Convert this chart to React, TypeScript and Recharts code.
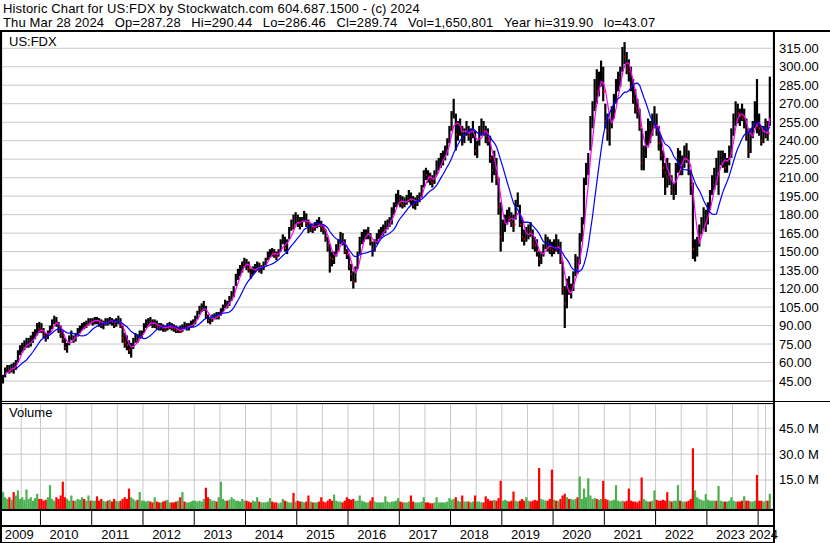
import React from "react";
import { ComposedChart, Bar, Line, XAxis, YAxis, CartesianGrid } from "recharts";

// ─── Data: half-month bars, starting with the first half of April 2009 ───────

const FIRST_YEAR = 2009;
const FIRST_HALF = 6; // 0 = Jan 1-15, 6 = Apr 1-15

const YEAR_TICKS = [2010, 2011, 2012, 2013, 2014, 2015, 2016, 2017, 2018, 2019, 2020, 2021, 2022, 2023, 2024];
const YEAR_LABELS = [2009, 2010, 2011, 2012, 2013, 2014, 2015, 2016, 2017, 2018, 2019, 2020, 2021, 2022, 2023, 2024];
const PRICE_TICKS = [45, 60, 75, 90, 105, 120, 135, 150, 165, 180, 195, 210, 225, 240, 255, 270, 285, 300, 315];
const VOL_TICKS = [15, 30, 45];

const HIGH = [
  50, 56, 58, 58, 59, 60, 62, 70, 74, 76, 78, 80, 80, 82, 85, 87, 92, 93, // 2009
  92, 88, 84, 86, 90, 95, 98, 97, 93, 90, 86, 80, 76, 82, 86, 82, 84, 88, 90, 92, 93, 94, 96, 96, // 2010
  96, 97, 97, 96, 95, 94, 96, 96, 97, 96, 95, 96, 98, 96, 90, 84, 82, 78, 76, 80, 84, 83, 86, 86, // 2011
  92, 95, 96, 97, 95, 95, 94, 92, 92, 91, 90, 92, 93, 92, 91, 90, 89, 90, 91, 93, 92, 92, 94, 95, // 2012
  98, 102, 106, 108, 110, 106, 99, 96, 99, 100, 101, 101, 104, 107, 111, 110, 114, 118, 122, 132, 136, 139, 142, 145, // 2013
  144, 142, 136, 138, 140, 142, 141, 139, 142, 145, 150, 152, 153, 152, 150, 152, 160, 164, 162, 160, 170, 176, 180, 182, // 2014
  180, 178, 178, 183, 181, 176, 173, 172, 174, 176, 178, 175, 172, 168, 162, 156, 150, 150, 156, 160, 166, 165, 160, 152, // 2015
  148, 140, 134, 138, 150, 162, 166, 168, 168, 170, 165, 158, 160, 165, 168, 170, 172, 175, 176, 178, 186, 190, 197, 200, // 2016
  196, 195, 194, 196, 200, 198, 195, 194, 196, 198, 204, 216, 218, 216, 214, 212, 216, 224, 226, 230, 232, 236, 242, 252, // 2017
  264, 274, 262, 256, 258, 252, 250, 256, 252, 250, 256, 248, 240, 252, 258, 256, 252, 250, 244, 228, 232, 226, 210, 190, // 2018
  176, 180, 184, 186, 182, 180, 192, 198, 188, 176, 168, 170, 172, 174, 168, 162, 160, 150, 150, 156, 164, 162, 160, 158, // 2019
  160, 164, 160, 158, 142, 122, 128, 130, 124, 134, 148, 146, 165, 178, 210, 222, 230, 260, 272, 290, 298, 296, 305, 300, // 2020
  270, 262, 258, 268, 278, 290, 296, 300, 316, 320, 312, 306, 300, 290, 282, 274, 266, 250, 236, 248, 258, 256, 262, 268, // 2021
  262, 252, 244, 232, 222, 226, 222, 212, 206, 222, 234, 232, 228, 236, 238, 232, 216, 206, 160, 162, 172, 178, 186, 184, // 2022
  190, 200, 212, 218, 226, 232, 232, 232, 230, 226, 236, 250, 262, 272, 270, 266, 270, 266, 258, 250, 250, 256, 272, 290, // 2023
  262, 252, 252, 258, 256, 292, // 2024
];

const LOW = [
  43, 48, 52, 51, 52, 51, 54, 60, 66, 68, 70, 72, 72, 73, 76, 79, 82, 84, // 2009
  84, 80, 77, 79, 83, 87, 91, 89, 84, 80, 76, 70, 68, 74, 78, 76, 77, 81, 84, 86, 87, 88, 90, 91, // 2010
  90, 91, 91, 89, 88, 87, 90, 90, 91, 90, 88, 89, 91, 88, 76, 72, 70, 67, 64, 71, 76, 76, 79, 80, // 2011
  84, 88, 89, 90, 88, 88, 87, 86, 86, 85, 85, 86, 87, 86, 85, 84, 84, 84, 85, 87, 86, 86, 88, 89, // 2012
  91, 95, 99, 101, 102, 96, 92, 91, 93, 95, 95, 95, 98, 101, 104, 104, 106, 110, 113, 122, 127, 130, 133, 137, // 2013
  135, 133, 128, 131, 133, 135, 133, 132, 135, 139, 143, 145, 146, 145, 143, 146, 150, 156, 150, 148, 160, 167, 168, 172, // 2014
  170, 168, 170, 174, 170, 165, 166, 165, 167, 169, 170, 166, 164, 158, 150, 133, 138, 140, 146, 150, 156, 155, 148, 144, // 2015
  135, 126, 120, 125, 136, 148, 156, 158, 160, 160, 155, 146, 150, 156, 160, 161, 163, 165, 168, 170, 172, 180, 186, 188, // 2016
  186, 185, 186, 188, 190, 188, 185, 184, 187, 190, 194, 202, 208, 206, 204, 202, 205, 212, 216, 218, 220, 224, 228, 238, // 2017
  248, 258, 232, 240, 244, 236, 238, 244, 240, 238, 242, 228, 226, 236, 244, 244, 238, 236, 222, 206, 212, 204, 180, 150, // 2018
  158, 166, 172, 174, 170, 166, 176, 186, 170, 158, 155, 158, 160, 162, 152, 150, 146, 138, 140, 146, 152, 150, 148, 146, // 2019
  148, 150, 148, 140, 115, 88, 104, 115, 112, 118, 130, 132, 140, 158, 172, 204, 212, 232, 250, 264, 270, 276, 284, 272, // 2020
  250, 240, 236, 250, 258, 270, 280, 284, 296, 302, 294, 288, 280, 270, 262, 258, 248, 216, 216, 226, 236, 238, 244, 250, // 2021
  244, 232, 224, 210, 196, 202, 204, 196, 192, 196, 214, 212, 212, 218, 222, 212, 196, 144, 142, 146, 154, 164, 168, 166, // 2022
  172, 184, 196, 200, 204, 196, 220, 218, 214, 214, 220, 226, 244, 252, 254, 252, 256, 250, 240, 226, 230, 242, 250, 246, // 2023
  244, 236, 238, 242, 240, 252, // 2024
];

const CLOSE = [
  48, 53, 55, 54, 57, 55, 60, 68, 72, 73, 74, 76, 76, 78, 82, 84, 88, 87, // 2009
  86, 82, 80, 84, 88, 93, 95, 92, 87, 84, 79, 72, 73, 80, 81, 79, 82, 86, 87, 90, 89, 91, 94, 93, // 2010
  94, 95, 94, 92, 90, 92, 94, 93, 95, 93, 91, 94, 96, 90, 80, 76, 74, 70, 70, 78, 80, 78, 83, 84, // 2011
  90, 92, 93, 92, 91, 92, 89, 88, 90, 88, 87, 90, 91, 88, 87, 86, 86, 85, 90, 88, 89, 90, 92, 92, // 2012
  96, 100, 104, 105, 106, 98, 94, 94, 97, 98, 97, 99, 102, 106, 108, 107, 112, 115, 120, 130, 133, 136, 139, 143, // 2013
  140, 136, 131, 136, 137, 140, 135, 136, 140, 143, 148, 150, 149, 147, 146, 150, 158, 160, 153, 157, 168, 172, 170, 178, // 2014
  174, 171, 175, 180, 173, 170, 170, 168, 171, 174, 172, 170, 168, 160, 155, 145, 144, 146, 153, 158, 162, 158, 150, 148, // 2015
  138, 132, 126, 136, 148, 160, 162, 164, 165, 166, 158, 152, 158, 162, 164, 166, 168, 172, 172, 175, 184, 186, 192, 194, // 2016
  190, 188, 190, 193, 196, 192, 188, 190, 193, 195, 200, 214, 212, 210, 208, 206, 212, 220, 222, 226, 228, 232, 238, 248, // 2017
  260, 262, 245, 250, 252, 242, 246, 252, 244, 246, 250, 232, 236, 248, 252, 248, 244, 240, 226, 216, 220, 210, 186, 162, // 2018
  170, 176, 180, 178, 174, 172, 188, 190, 172, 162, 160, 165, 168, 166, 156, 155, 150, 144, 146, 152, 160, 154, 152, 151, // 2019
  156, 152, 156, 142, 120, 108, 122, 118, 118, 130, 144, 140, 160, 170, 205, 218, 226, 254, 266, 284, 280, 290, 298, 280, // 2020
  256, 248, 252, 262, 270, 282, 290, 296, 310, 308, 298, 296, 284, 274, 268, 264, 252, 222, 228, 240, 248, 244, 256, 260, // 2021
  250, 238, 228, 218, 214, 210, 210, 200, 200, 216, 228, 220, 222, 232, 226, 216, 204, 152, 154, 158, 166, 172, 176, 178, // 2022
  186, 196, 206, 214, 208, 226, 226, 228, 218, 222, 232, 246, 258, 266, 262, 260, 258, 260, 244, 232, 246, 252, 264, 252, // 2023
  250, 240, 248, 250, 246, 289.74, // 2024
];

// volume in millions of shares
const VOLUME = [
  8, 5, 4, 5, 3.5, 8, 6, 9, 4, 5, 3.5, 9.5, 4, 5, 3, 4.5, 7, 4, // 2009
  4, 3, 3.5, 5, 12, 4, 3, 5, 4, 6, 14, 5, 4, 3, 6, 3, 3, 4, 3.5, 5, 4, 3, 6, 3, // 2010
  3, 3, 5.5, 3, 4, 3, 2.5, 3, 3.5, 2.5, 4, 3, 2.5, 3, 4, 5, 4, 10, 5, 4, 3, 3.5, 8, 3, // 2011
  3, 2.5, 3, 2.5, 2, 5, 2.5, 2, 2, 2.5, 3, 3.5, 2, 2, 2, 2.5, 3, 5, 8, 2.5, 2, 2, 2.5, 3, // 2012
  3, 2.5, 3, 2.5, 4, 10.5, 5, 4, 3, 3, 2.5, 5, 14, 4, 3, 3, 3.5, 5, 4, 3, 3, 2.5, 4, 3, // 2013
  3, 2.5, 2, 3, 2.5, 5, 2.5, 2, 2, 2, 2.5, 4.5, 2.5, 2, 2, 1.5, 2, 4, 3, 2.5, 2, 2, 7.5, 2.5, // 2014
  3, 2.5, 2.5, 2, 2.5, 6, 2.5, 2, 2, 2, 2.5, 5, 2.5, 2, 3, 4, 3, 6.5, 3, 2.5, 2.5, 2, 3, 5, // 2015
  4, 3.5, 4, 3, 3, 6, 3, 2.5, 2, 2, 3, 5, 2.5, 2, 2, 2, 2, 5.5, 2.5, 2, 2.5, 2.5, 3, 4.5, // 2016
  2.5, 2, 2, 2, 2.5, 6, 2.5, 2, 2, 2, 2.5, 5, 2, 2, 1.5, 1.5, 2, 5, 2, 2, 2, 2, 2.5, 4.5, // 2017
  3.5, 4, 5, 3, 2.5, 6, 2.5, 2.5, 2.5, 2, 2.5, 6, 2.5, 2.5, 2, 2, 5.5, 4, 3, 3, 3.5, 3, 4.5, 14.5, // 2018
  3, 3.5, 3, 2.5, 3, 8.3, 3, 2.5, 3, 4, 3, 5, 3, 2.5, 3, 3.5, 3, 22, 4, 3.5, 3, 3, 4, 21, // 2019
  3.5, 3, 3, 4, 6, 7, 5, 4, 4, 3.5, 4, 5, 17, 4, 10, 5, 16, 6, 4, 4.5, 4, 3.5, 4, 14.5, // 2020
  4, 3.5, 3, 3, 3.5, 12, 3, 2.5, 3, 2.5, 3, 10, 3, 2.5, 2.5, 2, 3, 16.5, 4, 3, 2.5, 2.5, 3, 9, // 2021
  3.5, 3, 3, 3.5, 3, 7.9, 3, 2.5, 3, 3, 12, 3, 2.5, 2.5, 2.5, 3, 4, 33.4, 9, 5, 4, 3.5, 3, 6.8, // 2022
  3.5, 3, 3, 3, 3, 11.5, 3, 2.5, 2.5, 2.5, 3, 5, 3, 2.5, 2.5, 2.5, 3, 5.6, 3, 3, 2.5, 2.5, 3, 17.9, // 2023
  3, 3, 2.5, 3, 3, 7, // 2024
];

// ─── Scales / layout ─────────────────────────────────────────────────────────

const X_DOMAIN: [number, number] = [2009.25, 2024.29];
const PRICE_DOMAIN: [number, number] = [28.8, 329];
const VOL_DOMAIN: [number, number] = [-1.83, 59.1];
const FONT = "'Liberation Sans', Arial, sans-serif";
const FS = 13;

// moving averages of the half-month closes (short ~2 months, long ~6 months)
function movingAvg(i: number, n: number, start: number) {
  if (i < start) return null;
  const from = Math.max(0, i - n + 1);
  const win = CLOSE.slice(from, i + 1);
  return win.reduce((a, b) => a + b, 0) / win.length;
}

const rows = CLOSE.map((cl, i) => {
  const k = FIRST_HALF + i;
  return {
    t: FIRST_YEAR + (k + 0.5) / 24,
    hi: HIGH[i],
    lo: LOW[i],
    cl,
    vol: VOLUME[i],
    up: i === 0 || cl >= CLOSE[i - 1],
    ma1: movingAvg(i, 4, 1),
    ma2: movingAvg(i, 12, 6),
  };
});

const labelTicks = YEAR_LABELS.map(
  (y) => (Math.max(y, X_DOMAIN[0]) + Math.min(y + 1, X_DOMAIN[1])) / 2
);
const bottomTicks = [...YEAR_TICKS, ...labelTicks].sort((a, b) => a - b);

// ─── Shapes ──────────────────────────────────────────────────────────────────

function PriceBar(props: any) {
  const { x, y, width, height, payload } = props;
  const cx = x + width / 2;
  const span = payload.hi - payload.lo || 1;
  const cy = y + ((payload.hi - payload.cl) / span) * height;
  return (
    <g>
      <rect x={cx - 1.1} y={y} width={2.2} height={Math.max(height, 1)} fill="#000" />
      {!payload.up && <rect x={cx} y={cy - 1} width={2} height={2} fill="#ff0000" />}
    </g>
  );
}

function VolBar(props: any) {
  const { x, y, width, height, payload } = props;
  const cx = x + width / 2;
  return <rect x={cx - 1.1} y={y} width={2.2} height={height} fill={payload.up ? "#4caf50" : "#ff0000"} />;
}

function PriceTick({ x, y, payload }: any) {
  return (
    <text x={x} y={y} dy={4.5} fontSize={FS} fontFamily={FONT} fill="#000" textAnchor="start">
      {payload.value.toFixed(2)}
    </text>
  );
}

function VolTick({ x, y, payload }: any) {
  return (
    <text x={x} y={y} dy={4.5} fontSize={FS} fontFamily={FONT} fill="#000" textAnchor="start">
      {payload.value.toFixed(1) + " M"}
    </text>
  );
}

function YearTick({ x, y, payload }: any) {
  const v = payload.value;
  if (Number.isInteger(v)) {
    return <line x1={x} x2={x} y1={y + 2} y2={y + 16} stroke="#000" strokeWidth={1} />;
  }
  return (
    <text x={x - 2} y={y + 30} fontSize={FS} fontFamily={FONT} fill="#000" textAnchor="middle">
      {Math.floor(v)}
    </text>
  );
}

// ─── Frame pieces ────────────────────────────────────────────────────────────

function Rule({ left, top, width, height }: { left: number; top: number; width: number; height: number }) {
  return <div style={{ position: "absolute", left, top, width, height, background: "#000" }} />;
}

const INFO = ["Thu Mar 28 2024", "Op=287.28", "Hi=290.44", "Lo=286.46", "Cl=289.74", "Vol=1,650,801", "Year hi=319.90", "lo=43.07"];

const titleStyle: React.CSSProperties = {
  position: "absolute",
  left: 3,
  fontSize: FS,
  lineHeight: "14px",
  whiteSpace: "pre",
  letterSpacing: 0.15,
};

export default function App() {
  return (
    <div
      style={{
        position: "absolute",
        left: 0,
        top: 0,
        width: 830,
        height: 543,
        background: "#fff",
        overflow: "hidden",
        fontFamily: FONT,
        color: "#000",
      }}
    >
      {/* title */}
      <div style={{ ...titleStyle, top: 2 }}>
        Historic Chart for US:FDX by Stockwatch.com 604.687.1500 - (c) 2024
      </div>
      <div style={{ ...titleStyle, top: 16 }}>
        {INFO.map((s, i) => (
          <span key={i} style={{ marginRight: 10.5 }}>{s}</span>
        ))}
      </div>

      {/* price panel */}
      <div style={{ position: "absolute", left: 0, top: 31 }}>
        <ComposedChart width={830} height={370} data={rows} margin={{ top: 0, right: 0, bottom: 0, left: 2 }}>
          <CartesianGrid stroke="#c8c8c8" />
          <XAxis
            type="number"
            dataKey="t"
            domain={X_DOMAIN}
            ticks={YEAR_TICKS}
            interval={0}
            tick={false}
            tickLine={false}
            axisLine={false}
            height={0}
            allowDataOverflow
          />
          <YAxis
            orientation="right"
            width={57}
            domain={PRICE_DOMAIN}
            ticks={PRICE_TICKS}
            interval={0}
            tick={<PriceTick />}
            tickLine={false}
            axisLine={false}
            tickSize={0}
            tickMargin={6}
            allowDataOverflow
          />
          <Bar dataKey={(d: any) => [d.lo, d.hi]} barSize={2} shape={<PriceBar />} isAnimationActive={false} />
          <Line dataKey="ma1" stroke="#ff00ff" strokeWidth={1.2} dot={false} isAnimationActive={false} connectNulls={false} />
          <Line dataKey="ma2" stroke="#0000ff" strokeWidth={1.2} dot={false} isAnimationActive={false} connectNulls={false} />
        </ComposedChart>
      </div>

      {/* volume panel */}
      <div style={{ position: "absolute", left: 0, top: 404 }}>
        <ComposedChart width={830} height={139} data={rows} margin={{ top: 0, right: 0, bottom: 0, left: 2 }}>
          <CartesianGrid stroke="#c8c8c8" />
          <XAxis
            type="number"
            dataKey="t"
            domain={X_DOMAIN}
            ticks={bottomTicks}
            interval={0}
            tick={<YearTick />}
            tickLine={false}
            axisLine={false}
            tickSize={0}
            tickMargin={0}
            height={34}
            allowDataOverflow
          />
          <YAxis
            orientation="right"
            width={57}
            domain={VOL_DOMAIN}
            ticks={VOL_TICKS}
            interval={0}
            tick={<VolTick />}
            tickLine={false}
            axisLine={false}
            tickSize={0}
            tickMargin={6}
            allowDataOverflow
          />
          <Bar dataKey={(d: any) => [VOL_DOMAIN[0], d.vol]} barSize={2} shape={<VolBar />} isAnimationActive={false} />
        </ComposedChart>
      </div>

      {/* panel labels */}
      <div style={{ position: "absolute", left: 9, top: 34, fontSize: FS, lineHeight: "15px" }}>US:FDX</div>
      <div style={{ position: "absolute", left: 9, top: 405, fontSize: FS, lineHeight: "15px" }}>Volume</div>

      {/* frame */}
      <Rule left={0} top={30} width={830} height={2} />
      <Rule left={0} top={30} width={2} height={513} />
      <Rule left={773} top={30} width={2} height={513} />
      <Rule left={0} top={401} width={830} height={1} />
      <Rule left={0} top={403} width={773} height={1} />
      <Rule left={0} top={509} width={775} height={2} />
      <Rule left={0} top={525} width={775} height={2} />
      <Rule left={0} top={542} width={775} height={1} />
    </div>
  );
}
